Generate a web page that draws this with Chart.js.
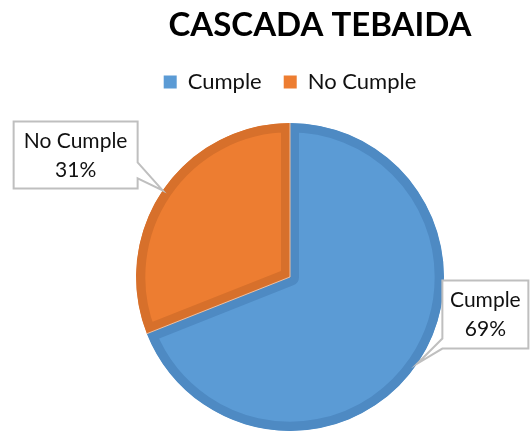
<!DOCTYPE html>
<html>
<head>
<meta charset="utf-8">
<script src="https://cdn.jsdelivr.net/npm/chart.js@4"></script>
<style>
  html, body { margin: 0; padding: 0; background: #fff; }
  #wrap { width: 532px; height: 434px; position: relative; }
</style>
</head>
<body>
<div id="wrap"><canvas id="myChart"></canvas></div>
<script>
// Data
const chartTitle = 'CASCADA TEBAIDA';
const categories = ['Cumple', 'No Cumple'];
const percentages = [69, 31];

const fillColors = ['#5B9BD5', '#ED7D31'];
const edgeColors = ['#4E8AC3', '#D7702B'];

// title drawn by hand so it can sit off the pie's centre like the original
const titlePlugin = {
    id: 'sheetTitle',
    afterDraw(chart) {
        const ctx = chart.ctx;
        ctx.save();
        ctx.font = 'bold 33px Lato';
        ctx.fillStyle = '#000';
        ctx.textAlign = 'center';
        ctx.textBaseline = 'middle';
        ctx.fillText(chartTitle, 320, 25);
        ctx.restore();
    }
};

// empty layout box that leaves a gap between the legend and the pie
const gapPlugin = {
    id: 'legendGap',
    beforeInit(chart) {
        const gap = {
            position: 'top',
            weight: 0,
            fullSize: true,
            options: {},
            isHorizontal() { return true; },
            update(maxWidth) {
                this.width = maxWidth;
                this.height = 17;
            },
            draw() {}
        };
        Chart.layouts.addBox(chart, gap);
    }
};

// callout boxes (excel style) pointing at the middle of each slice
const calloutPlugin = {
    id: 'callouts',
    afterDatasetsDraw(chart) {
        const ctx = chart.ctx;
        const meta = chart.getDatasetMeta(0);
        ctx.save();

        // thin light seam between the slices
        meta.data.forEach(function (arc) {
            ctx.beginPath();
            ctx.moveTo(arc.x, arc.y);
            ctx.lineTo(arc.x + Math.cos(arc.startAngle) * arc.outerRadius,
                       arc.y + Math.sin(arc.startAngle) * arc.outerRadius);
            ctx.strokeStyle = 'rgba(255,255,255,0.55)';
            ctx.lineWidth = 1;
            ctx.stroke();
        });

        meta.data.forEach(function (arc, i) {
            const mid = (arc.startAngle + arc.endAngle) / 2;
            const tipX = arc.x + Math.cos(mid) * arc.outerRadius;
            const tipY = arc.y + Math.sin(mid) * arc.outerRadius;
            const onRight = Math.cos(mid) > 0;
            const w = onRight ? 86 : 124;
            const h = onRight ? 68 : 67;
            const left = onRight ? tipX + 25 : tipX - 25 - w;
            const top = onRight ? tipY - 15 - h : tipY - 2 - h;
            const bottom = top + h;
            const right = left + w;

            ctx.beginPath();
            if (onRight) {
                ctx.moveTo(left, top);
                ctx.lineTo(right, top);
                ctx.lineTo(right, bottom);
                ctx.lineTo(left, bottom);
                ctx.lineTo(tipX, tipY);
                ctx.lineTo(left, bottom - 10);
                ctx.closePath();
            } else {
                ctx.moveTo(left, top);
                ctx.lineTo(right, top);
                ctx.lineTo(right, bottom - 26);
                ctx.lineTo(tipX, tipY);
                ctx.lineTo(right, bottom - 10);
                ctx.lineTo(right, bottom);
                ctx.lineTo(left, bottom);
                ctx.closePath();
            }
            ctx.fillStyle = '#fff';
            ctx.fill();
            ctx.strokeStyle = '#BFBFBF';
            ctx.lineWidth = 2;
            ctx.stroke();

            ctx.fillStyle = '#111';
            ctx.font = '21px Lato';
            ctx.textAlign = 'center';
            ctx.textBaseline = 'middle';
            const cx = (left + right) / 2;
            ctx.fillText(categories[i], cx, top + 20);
            ctx.fillText(percentages[i] + '%', cx, top + 49);
        });
        ctx.restore();
    }
};

const dataObj = {
    labels: categories,
    datasets: [{
        data: percentages,
        backgroundColor: fillColors,
        borderColor: edgeColors,
        borderWidth: 9,
        borderAlign: 'inner',
        hoverOffset: 0
    }]
};

var chartArea = document.getElementById('myChart');

const chartContent = new Chart(chartArea, {
    type: 'pie',
    data: dataObj,
    plugins: [gapPlugin, titlePlugin, calloutPlugin],
    options: {
        responsive: true,
        maintainAspectRatio: false,
        animation: false,
        layout: {
            padding: { top: 49, left: 136, right: 88, bottom: 0 }
        },
        plugins: {
            tooltip: { enabled: false },
            legend: {
                position: 'top',
                labels: {
                    boxWidth: 13,
                    boxHeight: 13,
                    padding: 22,
                    color: '#111',
                    font: { family: 'Lato', size: 22 },
                    generateLabels: function (chart) {
                        // plain squares, no slice border in the legend
                        return Chart.overrides.pie.plugins.legend.labels.generateLabels(chart)
                            .map(function (item) {
                                item.lineWidth = 0;
                                item.strokeStyle = item.fillStyle;
                                return item;
                            });
                    }
                }
            }
        }
    }
});
</script>
</body>
</html>
